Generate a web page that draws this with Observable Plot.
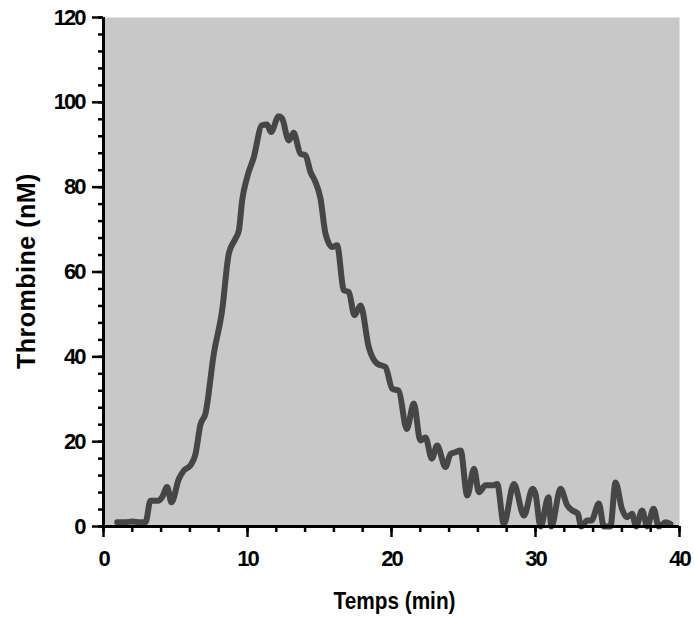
<!DOCTYPE html>
<html>
<head>
<meta charset="utf-8">
<script src="https://cdn.jsdelivr.net/npm/d3@7"></script>
<script src="https://cdn.jsdelivr.net/npm/@observablehq/plot@0.6"></script>
<style>
  html, body { margin: 0; padding: 0; background: #fff; }
  svg text { font-family: "Liberation Sans", Arial, sans-serif; }
</style>
</head>
<body>
<div id="chart"></div>
<script>
const time = [0.95,1.5,2.0,2.5,2.92,3.26,3.84,4.07,4.42,4.72,5.23,5.58,6.04,6.39,6.73,7.08,7.66,8.24,8.7,9.17,9.4,9.63,9.98,10.44,11.0,11.35,11.63,12.17,12.4,12.87,13.2,13.68,14.03,14.37,14.72,15.07,15.42,15.88,16.22,16.69,17.03,17.43,17.85,18.42,19.0,19.58,20.05,20.5,21.06,21.55,22.0,22.36,22.8,23.17,23.75,24.1,24.44,24.8,25.26,25.73,26.07,26.53,27.0,27.34,27.8,28.5,29.2,29.8,30.0,30.35,30.9,31.1,31.74,32.2,32.55,32.94,33.17,33.6,33.88,34.4,34.75,35.2,35.56,36.0,36.36,36.7,36.99,37.4,37.76,38.2,38.56,39.03,39.37];
const thrombine = [1,1,1.2,1,1,6.1,6.1,6.9,9.3,5.7,11.2,13.2,14.4,17.1,24,26.6,40.7,51,64.3,67.9,69.8,76.9,82.4,87.1,94.6,94.8,93,96.7,96.2,91,92.8,87.9,87.5,83.6,81.2,77.3,69,65.9,66.3,55.7,55.3,49.8,52.1,42.3,38.4,37.6,32.5,32,23,29,20.3,21,16,19.1,14,17.1,17.5,17.9,7.3,13.6,8.1,9.7,9.7,10,0.6,10,2.6,8.9,7.7,0,6.9,0,8.9,5,3.8,3,0,1.4,1.4,5.4,0,0,10.4,4.2,2.2,3,0,3.8,0,4.2,0,1,0.6];
const xTicks = [0,10,20,30,40];
const xMinorTicks = d3.range(0, 40.001, 2);
const yTicks = [0,20,40,60,80,100,120];
const yMinorTicks = d3.range(0, 120.001, 4);
const xLabel = "Temps (min)";
const yLabel = "Thrombine (nM)";

const data = time.map((t, i) => ({t, v: thrombine[i]}));

const chart = Plot.plot({
  width: 694,
  height: 617,
  marginLeft: 103,
  marginRight: 15,
  marginTop: 17,
  marginBottom: 91,
  style: {fontFamily: "'Liberation Sans', Arial, sans-serif", background: "#fff"},
  x: {domain: [0, 40]},
  y: {domain: [0, 120]},
  marks: [
    Plot.frame({fill: "#c8c8c8", stroke: null}),
    Plot.line(data, {x: "t", y: "v", stroke: "#464646", strokeWidth: 6, curve: "monotone-x"}),
    Plot.axisX({ticks: xMinorTicks, tickSize: 6, tickFormat: () => "", strokeWidth: 2.5, label: null, stroke: "#000"}),
    Plot.axisX({ticks: xTicks, tickSize: 11, tickPadding: 13, strokeWidth: 2.5, fontSize: 22, fontWeight: "bold", fill: "#000", stroke: "#000", label: null, tickFormat: d3.format("d")}),
    Plot.axisY({ticks: yMinorTicks, tickSize: 5, tickFormat: () => "", strokeWidth: 2.5, label: null, stroke: "#000"}),
    Plot.axisY({ticks: yTicks, tickSize: 11, tickPadding: 8, strokeWidth: 2.5, fontSize: 22, fontWeight: "bold", fill: "#000", stroke: "#000", label: null, tickFormat: d3.format("d")}),
    Plot.ruleX([0], {stroke: "#000", strokeWidth: 3}),
    Plot.ruleY([0], {stroke: "#000", strokeWidth: 3}),
    Plot.text([xLabel], {frameAnchor: "bottom", dy: 75, dx: 3, fontSize: 24, fontWeight: "bold", fill: "#000", text: d => d, lineAnchor: "middle"}),
    Plot.text([yLabel], {frameAnchor: "left", textAnchor: "middle", lineAnchor: "middle", dx: -77, dy: -1, rotate: -90, fontSize: 25, fontWeight: "bold", fill: "#000", text: d => d})
  ]
});
d3.select(chart).selectAll("text").each(function() {
  const s = this.textContent;
  if (s === xLabel) { d3.select(this).attr("textLength", 122).attr("lengthAdjust", "spacingAndGlyphs"); }
  else if (s === yLabel) { d3.select(this).style("letter-spacing", "0.5px"); }
  else if (/^\d+$/.test(s)) { d3.select(this).style("letter-spacing", "-2px"); }
});
document.getElementById("chart").appendChild(chart);
</script>
</body>
</html>
